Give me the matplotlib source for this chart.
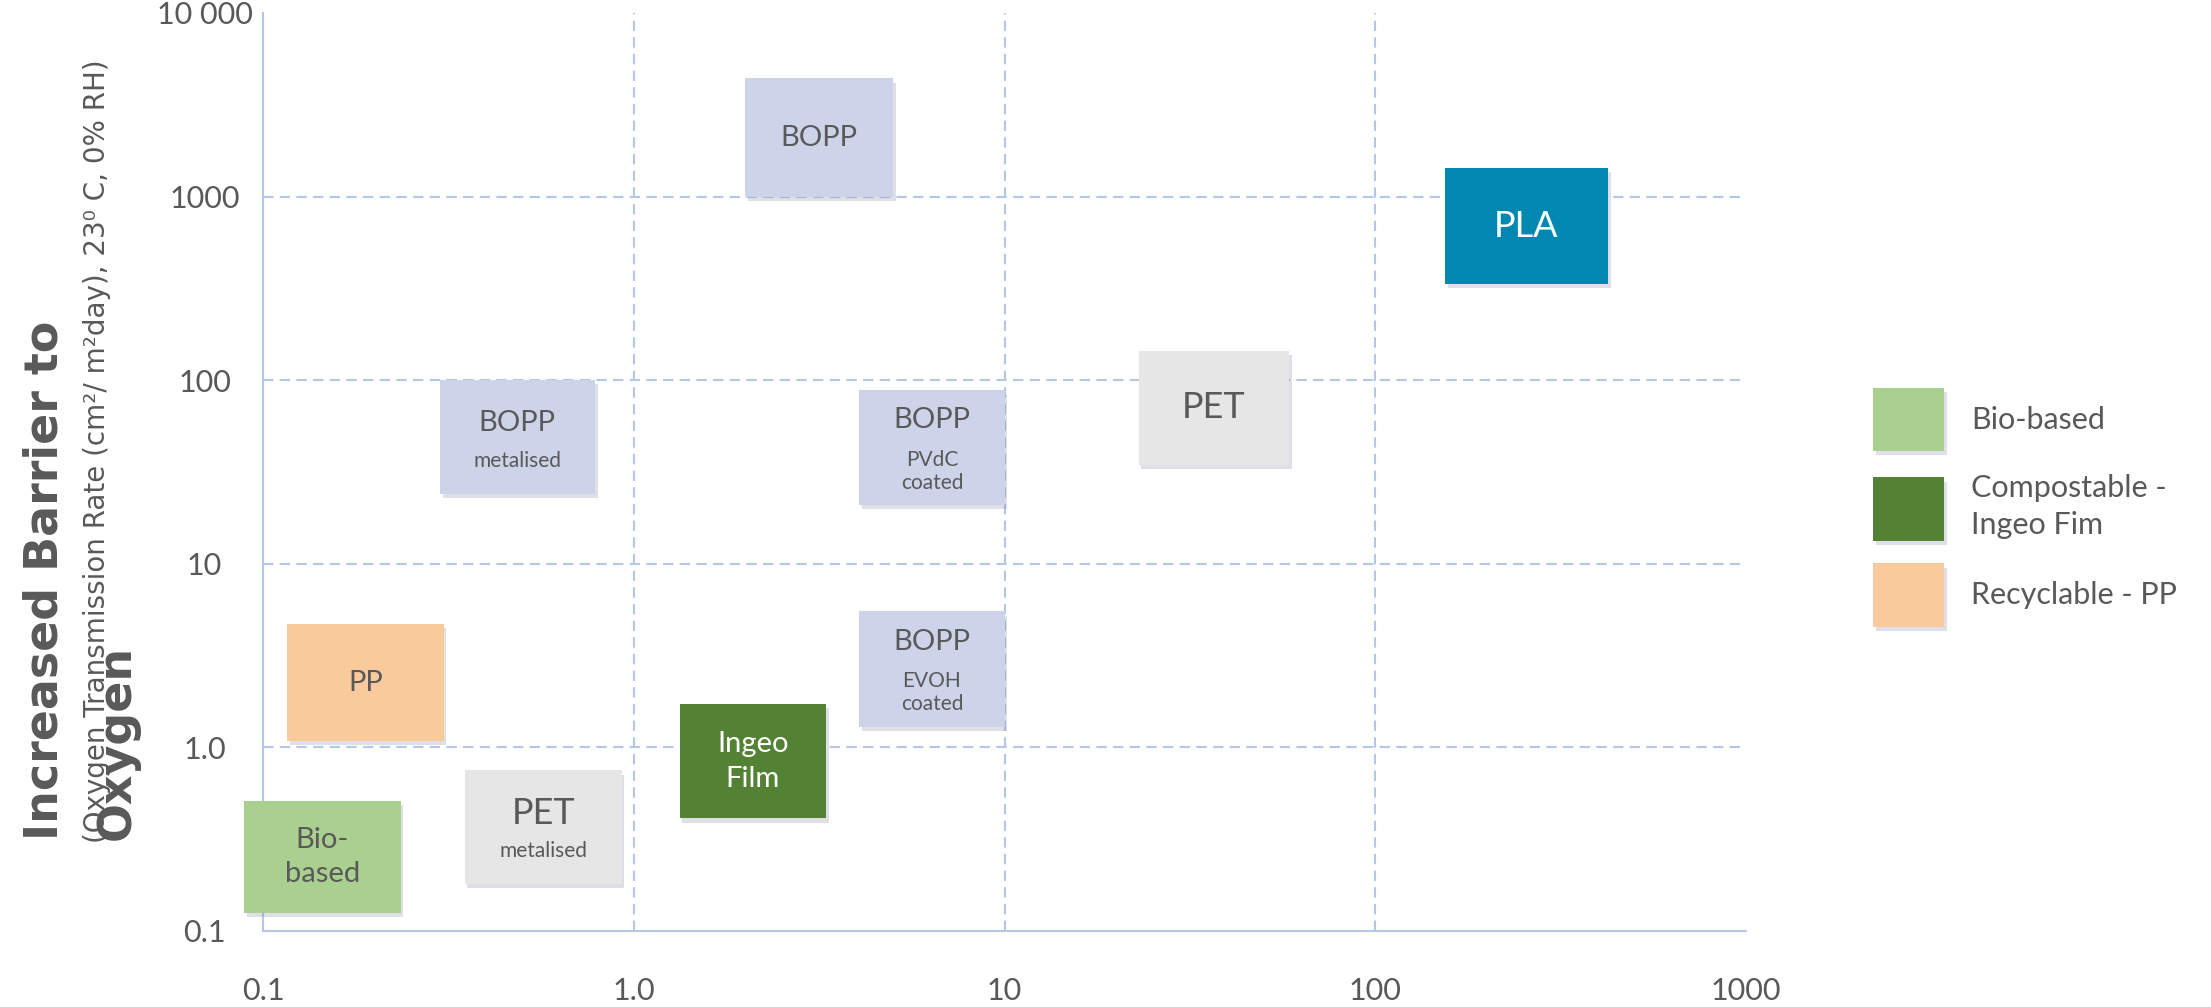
import matplotlib
matplotlib.use('Agg')
import matplotlib.pyplot as plt
import matplotlib.patheffects as pe
from matplotlib.patches import Rectangle, Patch
import numpy as np

# material boxes: ranges (x range, y = oxygen transmission rate)
names = ['BOPP', 'BOPP', 'BOPP', 'BOPP', 'PET', 'PET', 'PLA', 'PP', 'Bio-\nbased', 'Ingeo\nFilm']
subnames = ['', 'metalised', 'PVdC\ncoated', 'EVOH\ncoated', '', 'metalised', '', '', '', '']
kind = ['bopp', 'bopp', 'bopp', 'bopp', 'pet', 'pet', 'pla', 'pp', 'bio', 'ingeo']
x_low = [2.0, 0.30, 4.06, 4.06, 23.0, 0.35, 154, 0.116, 0.089, 1.33]
x_high = [5.0, 0.785, 10.0, 10.0, 58.6, 0.927, 425, 0.307, 0.235, 3.30]
y_low = [1000, 24, 21, 1.29, 34.5, 0.18, 334, 1.08, 0.125, 0.41]
y_high = [4400, 100, 88, 5.5, 145, 0.75, 1430, 4.7, 0.51, 1.72]

x_ticks = [0.1, 1, 10, 100, 1000]
x_ticklabels = ['0.1', '1.0', '10', '100', '1000']
y_ticks = [0.1, 1, 10, 100, 1000, 10000]
y_ticklabels = ['0.1', '1.0', '10', '100', '1000', '10 000']

legend_labels = ['Bio-based', 'Compostable -\nIngeo Fim', 'Recyclable - PP']
legend_kinds = ['bio', 'ingeo', 'pp']

colors = {'bopp': '#CDD3E9', 'pet': '#E6E6E6', 'pla': '#0088B2',
          'pp': '#F8CA9C', 'bio': '#A9D08E', 'ingeo': '#548235'}
text_col = {'pla': 'white', 'ingeo': 'white'}
grey = '#595959'
grid_c = '#B4C7E7'

plt.rcParams['font.family'] = ['Lato', 'DejaVu Sans']

fig = plt.figure(figsize=(22.11, 10.07), dpi=100)
ax = fig.add_axes([263/2211, 1 - 931/1007, (1746 - 263)/2211, (931 - 13)/1007])
ax.set_xscale('log')
ax.set_yscale('log')
ax.set_xlim(0.1, 1000)
ax.set_ylim(0.1, 10000)

# dashed grid (inner lines only)
for v in x_ticks[1:-1]:
    ax.axvline(v, color=grid_c, lw=1.5, ls=(0, (5, 3)), zorder=1)
for v in y_ticks[1:-1]:
    ax.axhline(v, color=grid_c, lw=1.5, ls=(0, (5, 3)), zorder=1)

for s in ['top', 'right']:
    ax.spines[s].set_visible(False)
for s in ['left', 'bottom']:
    ax.spines[s].set_color(grid_c)
    ax.spines[s].set_linewidth(1.5)

ax.set_xticks(x_ticks)
ax.set_xticklabels(x_ticklabels)
ax.set_yticks(y_ticks)
ax.set_yticklabels(y_ticklabels)
ax.minorticks_off()
ax.tick_params(length=0, labelsize=22, labelcolor=grey)
ax.tick_params(axis='x', pad=33)
ax.tick_params(axis='y', pad=42)
for lab in ax.get_yticklabels():
    lab.set_ha('center')

shadow = [pe.SimplePatchShadow(offset=(2, -3), shadow_rgbFace='#8080a0', alpha=0.25), pe.Normal()]

for i in range(len(names)):
    r = Rectangle((x_low[i], y_low[i]), x_high[i] - x_low[i], y_high[i] - y_low[i],
                  facecolor=colors[kind[i]], edgecolor='none', zorder=3, clip_on=False)
    r.set_path_effects(shadow)
    ax.add_patch(r)
    cx = np.sqrt(x_low[i] * x_high[i])
    cy = np.sqrt(y_low[i] * y_high[i])
    tc = text_col.get(kind[i], grey)
    big = 26 if names[i] in ('PET', 'PLA') else 21
    if subnames[i] == '':
        ax.annotate(names[i], (cx, cy), ha='center', va='center', fontsize=big,
                    color=tc, zorder=4, linespacing=1.4, annotation_clip=False)
    else:
        nsub = subnames[i].count('\n') + 1
        up = 20 if nsub == 2 else 10
        ax.annotate(names[i], (cx, cy), xytext=(0, up), textcoords='offset points',
                    ha='center', va='center', fontsize=big, color=tc, zorder=4)
        ax.annotate(subnames[i], (cx, cy), xytext=(0, -17), textcoords='offset points',
                    ha='center', va='center', fontsize=15, color=tc, zorder=4,
                    linespacing=1.2)

handles = [Patch(facecolor=colors[k], edgecolor='none') for k in legend_kinds]
leg = fig.legend(handles, legend_labels, loc='upper left',
                 bbox_to_anchor=(1873/2211, 1 - 388/1007), frameon=False, fontsize=22,
                 handlelength=2.32, handleheight=2.8, handletextpad=0.9,
                 labelspacing=0.75, borderpad=0, borderaxespad=0, labelcolor=grey)
for p in leg.get_patches():
    p.set_path_effects(shadow)
for t in leg.get_texts():
    t.set_linespacing(1.4)

# y-axis titles (the bold title and the subtitle overlap, as in the original)
fig.text(22/2211, 1 - 840/1007, 'Increased Barrier to\nOxygen', rotation=90,
         ha='left', va='bottom', fontsize=33, fontweight='bold', color=grey,
         family='DejaVu Sans', linespacing=1.8)
fig.text(97/2211, 1 - 843/1007, '(Oxygen Transmission Rate (cm²/ m²day), 23⁰ C, 0% RH)',
         rotation=90, ha='center', va='bottom', fontsize=20, color=grey,
         family='DejaVu Sans')

fig.savefig('out.png', dpi=100)
